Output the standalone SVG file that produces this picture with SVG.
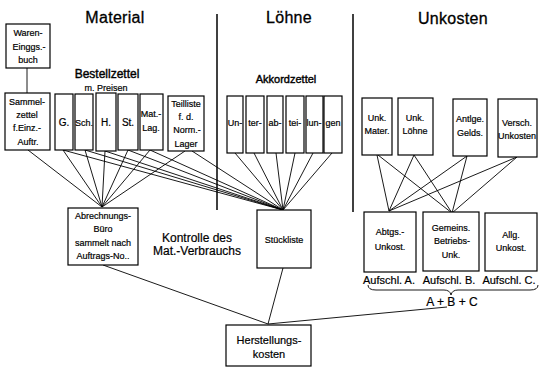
<svg xmlns="http://www.w3.org/2000/svg" width="540" height="369" viewBox="0 0 540 369">
<style>
.b{fill:#fff;stroke:#000;stroke-width:1.2}
.t{font-family:"Liberation Sans",Arial,sans-serif;font-size:9px;text-anchor:middle;fill:#000;stroke:#000;stroke-width:0.2}
.m{font-size:10px}
.h{font-family:"Liberation Sans",Arial,sans-serif;font-size:16px;text-anchor:middle;fill:#000;stroke:#000;stroke-width:0.3;letter-spacing:0.3px}
.s{font-family:"Liberation Sans",Arial,sans-serif;font-size:12px;text-anchor:middle;fill:#000;stroke:#000;stroke-width:0.2}
.c line,.c path{stroke:#000;stroke-width:0.9;fill:none}
</style>
<rect width="540" height="369" fill="#fff"/>
<g id="titles">
<text class="h" x="115" y="23">Material</text>
<text class="h" x="289" y="23">Löhne</text>
<text class="h" x="453" y="24">Unkosten</text>
<text class="s" x="107" y="78" style="font-size:12px;stroke-width:0.4">Bestellzettel</text>
<text class="t" x="106" y="91">m. Preisen</text>
<text class="s" x="286" y="83" style="font-size:11px;stroke-width:0.4">Akkordzettel</text>
<text class="s" x="197" y="242">Kontrolle des</text>
<text class="s" x="197" y="255">Mat.-Verbrauchs</text>
</g>
<g class="c" id="connectors">
<line x1="217" y1="14" x2="217" y2="210" style="stroke-width:1.5"/>
<line x1="353" y1="14" x2="353" y2="212" style="stroke-width:1.5"/>
<line x1="27" y1="68" x2="27" y2="93"/>
<line x1="28" y1="150" x2="102" y2="207"/>
<line x1="63" y1="150" x2="102" y2="207"/>
<line x1="85" y1="150" x2="102" y2="207"/>
<line x1="105" y1="151" x2="102" y2="207"/>
<line x1="128" y1="150" x2="102" y2="207"/>
<line x1="150" y1="150" x2="102" y2="207"/>
<line x1="185" y1="151" x2="102" y2="207"/>
<line x1="63" y1="150" x2="283" y2="210"/>
<line x1="85" y1="150" x2="283" y2="210"/>
<line x1="105" y1="151" x2="283" y2="210"/>
<line x1="128" y1="150" x2="283" y2="210"/>
<line x1="150" y1="150" x2="283" y2="210"/>
<line x1="192" y1="151" x2="283" y2="210"/>
<line x1="235" y1="153" x2="283" y2="210"/>
<line x1="254" y1="153" x2="283" y2="210"/>
<line x1="276" y1="153" x2="283" y2="210"/>
<line x1="295" y1="153" x2="283" y2="210"/>
<line x1="313" y1="153" x2="283" y2="210"/>
<line x1="332" y1="153" x2="283" y2="210"/>
<line x1="377" y1="155" x2="389" y2="211"/>
<line x1="378" y1="155" x2="452" y2="213"/>
<line x1="414" y1="155" x2="389" y2="211"/>
<line x1="414" y1="155" x2="452" y2="213"/>
<line x1="467" y1="156" x2="389" y2="211"/>
<line x1="467" y1="156" x2="452" y2="213"/>
<line x1="517" y1="157" x2="389" y2="211"/>
<line x1="517" y1="157" x2="452" y2="213"/>
<line x1="103" y1="265" x2="268" y2="324"/>
<line x1="283" y1="268" x2="268" y2="324"/>
<line x1="447" y1="307" x2="268" y2="324"/>
<path d="M368 285 Q368 290 376 290 L444 290 Q450 290 451 295 Q452 290 458 290 L530 290 Q538 290 538 285"/>
</g>
<g id="waren"><rect class="b" x="6" y="24" width="44" height="44"/>
<text class="t" x="28" y="36">Waren-</text><text class="t" x="29" y="50">Einggs.-</text><text class="t" x="28" y="63">buch</text></g>
<g id="sammel"><rect class="b" x="5" y="93" width="45" height="57"/>
<text class="t" x="27" y="105">Sammel-</text><text class="t" x="27" y="118">zettel</text><text class="t" x="27" y="131">f.Einz.-</text><text class="t" x="28" y="145">Auftr.</text></g>
<g id="bz-g"><rect class="b" x="55" y="94" width="18" height="56"/><text class="t m" x="64" y="126">G.</text></g>
<g id="bz-sch"><rect class="b" x="75" y="94" width="18" height="56"/><text class="t" x="84" y="126">Sch.</text></g>
<g id="bz-h"><rect class="b" x="96" y="93" width="20" height="58"/><text class="t m" x="106" y="126">H.</text></g>
<g id="bz-st"><rect class="b" x="118" y="94" width="20" height="56"/><text class="t m" x="128" y="126">St.</text></g>
<g id="bz-mat"><rect class="b" x="140" y="94" width="23" height="56"/><text class="t" x="151" y="117">Mat.-</text><text class="t" x="151" y="131">Lag.</text></g>
<g id="teilliste"><rect class="b" x="168" y="96" width="36" height="55"/>
<text class="t" x="186" y="107">Teilliste</text><text class="t" x="186" y="120">f. d.</text><text class="t" x="187" y="133">Norm.-</text><text class="t" x="186" y="147">Lager</text></g>
<g id="ak1"><rect class="b" x="227" y="96" width="16" height="57"/><text class="t" x="235" y="126">Un-</text></g>
<g id="ak2"><rect class="b" x="246" y="96" width="18" height="57"/><text class="t" x="255" y="126">ter-</text></g>
<g id="ak3"><rect class="b" x="267" y="96" width="16" height="57"/><text class="t" x="275" y="126">ab-</text></g>
<g id="ak4"><rect class="b" x="286" y="96" width="18" height="57"/><text class="t" x="295" y="126">tei-</text></g>
<g id="ak5"><rect class="b" x="306" y="96" width="17" height="57"/><text class="t" x="314" y="126">lun-</text></g>
<g id="ak6"><rect class="b" x="324" y="96" width="18" height="57"/><text class="t" x="333" y="126">gen</text></g>
<g id="unk-mat"><rect class="b" x="362" y="98" width="30" height="57"/><text class="t" x="377" y="121">Unk.</text><text class="t" x="377" y="134">Mater.</text></g>
<g id="unk-loehne"><rect class="b" x="398" y="98" width="35" height="57"/><text class="t" x="415" y="121">Unk.</text><text class="t" x="415" y="134">Löhne</text></g>
<g id="antlge"><rect class="b" x="453" y="99" width="34" height="57"/><text class="t" x="470" y="122">Antlge.</text><text class="t" x="470" y="136">Gelds.</text></g>
<g id="versch"><rect class="b" x="498" y="99" width="39" height="58"/><text class="t" x="517" y="126">Versch.</text><text class="t" x="517" y="139">Unkosten</text></g>
<g id="abrechnung"><rect class="b" x="68" y="208" width="70" height="57"/>
<text class="t" x="103" y="219">Abrechnungs-</text><text class="t" x="103" y="232">Büro</text><text class="t" x="103" y="246">sammelt nach</text><text class="t" x="103" y="259">Auftrags-No..</text></g>
<g id="stueckliste"><rect class="b" x="257" y="210" width="54" height="58"/><text class="t" x="284" y="243">Stückliste</text></g>
<g id="abtgs"><rect class="b" x="364" y="212" width="52" height="60"/><text class="t" x="390" y="235">Abtgs.-</text><text class="t" x="390" y="250">Unkost.</text></g>
<g id="gemeins"><rect class="b" x="423" y="212" width="56" height="59"/><text class="t" x="451" y="231">Gemeins.</text><text class="t" x="452" y="244">Betriebs-</text><text class="t" x="451" y="258">Unk.</text></g>
<g id="allg"><rect class="b" x="485" y="213" width="52" height="58"/><text class="t" x="511" y="238">Allg.</text><text class="t" x="511" y="251">Unkost.</text></g>
<g id="aufschl">
<text class="s" x="389" y="284" style="font-size:11px">Aufschl. A.</text>
<text class="s" x="449" y="284" style="font-size:11px">Aufschl. B.</text>
<text class="s" x="509" y="284" style="font-size:11px">Aufschl. C.</text>
<text class="s" x="452" y="306">A + B + C</text>
</g>
<g id="herstellung"><rect class="b" x="226" y="325" width="85" height="41"/>
<text class="s" x="269" y="344" style="font-size:11px">Herstellungs-</text><text class="s" x="269" y="358" style="font-size:11px">kosten</text></g>
</svg>
